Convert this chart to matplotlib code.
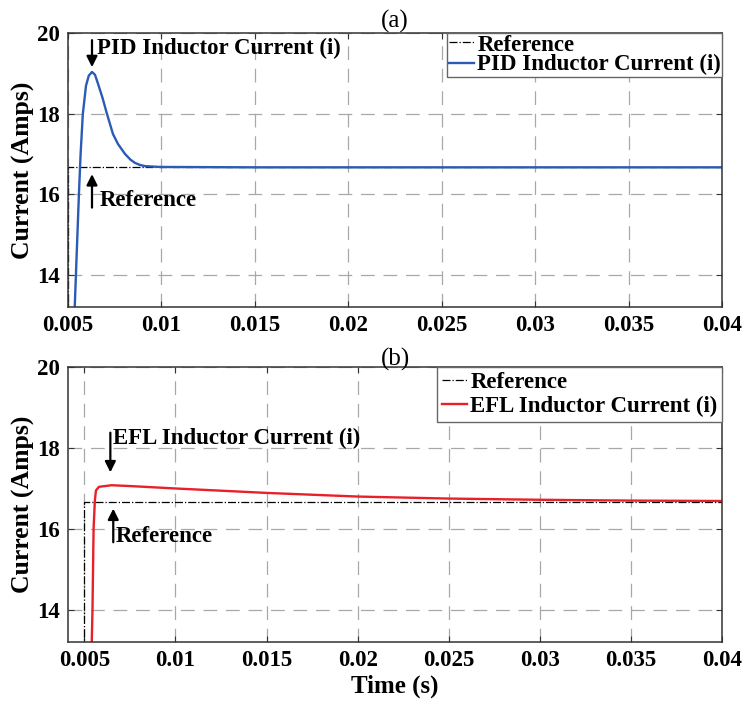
import matplotlib
matplotlib.use("Agg")
import matplotlib.pyplot as plt

plt.rcParams['font.family'] = ['Liberation Serif', 'DejaVu Serif']
plt.rcParams['font.weight'] = 'bold'

# reference step (both panels)
ref_t = [0.005, 0.005, 0.04]
ref_i = [13.0, 16.67, 16.67]

# PID inductor current, panel (a)
pid_t = [0.00535, 0.00543, 0.00551, 0.00559, 0.00568, 0.0058, 0.00597, 0.00612,
         0.00629, 0.00645, 0.00661, 0.00685, 0.00709, 0.00741, 0.00768,
         0.00806, 0.00835, 0.00859, 0.00885, 0.00913, 0.00994, 0.015, 0.02,
         0.03, 0.04]
pid_i = [13.0, 14.0, 15.0, 16.0, 17.0, 18.0, 18.7, 18.95,
         19.04, 18.97, 18.75, 18.4, 18.0, 17.5, 17.25,
         17.0, 16.86, 16.78, 16.73, 16.7, 16.68, 16.67, 16.67,
         16.67, 16.67]

# EFL inductor current, panel (b)
efl_t = [0.00540, 0.00545, 0.00551, 0.00558, 0.00564, 0.0058, 0.0065, 0.0075,
         0.01, 0.015, 0.02, 0.025, 0.03, 0.035, 0.04]
efl_i = [13.0, 14.0, 16.0, 16.7, 16.95, 17.04, 17.08, 17.06,
         17.0, 16.89, 16.8, 16.75, 16.72, 16.7, 16.69]

xticks = [0.005, 0.01, 0.015, 0.02, 0.025, 0.03, 0.035, 0.04]
xticklabels = ['0.005', '0.01', '0.015', '0.02', '0.025', '0.03', '0.035', '0.04']
yticks = [14, 16, 18, 20]

fig = plt.figure(figsize=(7.46, 7.09), dpi=100)
ax1 = fig.add_axes([0.091, 0.567, 0.877, 0.386])
ax2 = fig.add_axes([0.091, 0.0945, 0.877, 0.3875])

def style(ax, xlim):
    ax.set_xlim(*xlim)
    ax.set_ylim(13.2, 20)
    ax.set_xticks(xticks)
    ax.set_xticklabels(xticklabels)
    ax.set_yticks(yticks)
    ax.grid(True, color='#a8a8a8', linestyle=(0, (11, 7)), linewidth=0.9)
    ax.tick_params(direction='in', top=True, right=True, length=4,
                   labelsize=16.5, pad=6, color='#333333')
    for lbl in ax.get_xticklabels() + ax.get_yticklabels():
        lbl.set_fontweight('bold')
    for s in ax.spines.values():
        s.set_color('#333333')
        s.set_linewidth(1.1)
    ax.set_ylabel('Current (Amps)', fontsize=18.5, fontweight='bold', labelpad=1)

arrow = dict(arrowstyle='-|>', color='black', lw=1.6, mutation_scale=16)
leg_kw = dict(loc='upper right', handlelength=1.1, handletextpad=0.15,
              borderaxespad=0, fancybox=False, framealpha=1, edgecolor='#666666',
              prop={'weight': 'bold', 'size': 16.5})

# panel (a)
ax1.plot(ref_t, ref_i, color='black', linestyle='-.', linewidth=0.9, label='Reference')
ax1.plot(pid_t, pid_i, color='#2a5bb5', linewidth=1.7, label='PID Inductor Current (i)')
style(ax1, (0.005, 0.04))
ax1.set_title('(a)', fontsize=18, fontweight='normal', pad=4)
ax1.annotate('', xy=(0.00629, 19.09), xytext=(0.00629, 19.9), arrowprops=arrow)
ax1.text(0.00658, 19.62, 'PID Inductor Current (i)', fontsize=16.5, fontweight='bold',
         va='center', ha='left')
ax1.annotate('', xy=(0.00629, 16.57), xytext=(0.00629, 15.6), arrowprops=arrow)
ax1.text(0.00668, 15.85, 'Reference', fontsize=16.5, fontweight='bold',
         va='center', ha='left')
ax1.legend(borderpad=0.05, labelspacing=-0.05, **leg_kw)

# panel (b)
ax2.plot(ref_t, ref_i, color='black', linestyle='-.', linewidth=0.9, label='Reference')
ax2.plot(efl_t, efl_i, color='#e8202a', linewidth=1.7, label='EFL Inductor Current (i)')
style(ax2, (0.0041, 0.04))
ax2.set_title('(b)', fontsize=18, fontweight='normal', pad=1)
ax2.annotate('', xy=(0.00643, 17.33), xytext=(0.00643, 18.45), arrowprops=arrow)
ax2.text(0.00656, 18.25, 'EFL Inductor Current (i)', fontsize=16.5, fontweight='bold',
         va='center', ha='left')
ax2.annotate('', xy=(0.00659, 16.57), xytext=(0.00659, 15.6), arrowprops=arrow)
ax2.text(0.00674, 15.8, 'Reference', fontsize=16.5, fontweight='bold',
         va='center', ha='left')
ax2.legend(borderpad=0.2, labelspacing=0.15, **leg_kw)
ax2.set_xlabel('Time (s)', fontsize=18, fontweight='bold', labelpad=2)

fig.savefig('out.png', dpi=100)
